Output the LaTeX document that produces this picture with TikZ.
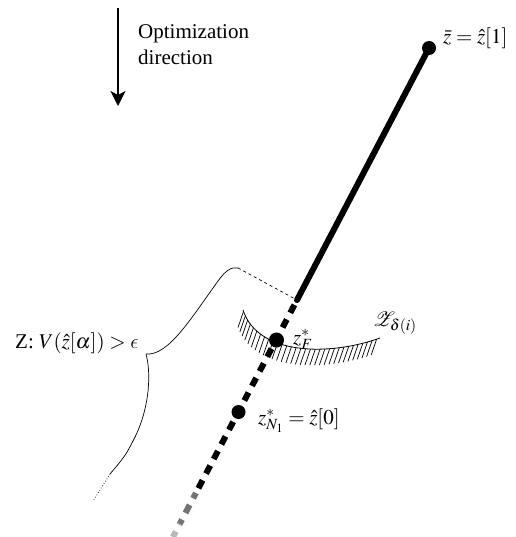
\documentclass[tikz,border=0pt]{standalone}
\usepackage{mathptmx}
\usepackage{mathrsfs}
\usepackage{fontspec}
\setmainfont{Liberation Serif}
\usetikzlibrary{arrows.meta,decorations.markings}
\DeclareSymbolFont{cmletters}{OML}{cmm}{m}{it}
\DeclareMathSymbol{\lunateps}{\mathord}{cmletters}{"0F}

\tikzset{
  dot/.style={circle,fill=black,inner sep=0pt,minimum size=#1},
  lbl/.style={inner sep=0pt,anchor=base west},
  traj/.style={line width=6pt},
  trajdash/.style={traj,dash pattern=on 9pt off 7.5pt},
  hatch/.style={postaction={decorate},
    decoration={markings,mark=between positions 0.01 and 0.99 step 4.8pt with
      {\pgftransformresetnontranslations
       \draw[line width=0.7pt] (0pt,0pt) -- (-5.5pt,-16pt);}}},
}

\begin{document}
\begin{tikzpicture}[x=1pt,y=-1pt,font=\fontsize{21}{26}\selectfont]
  \useasboundingbox (0,0) rectangle (515,537);
  % optimization direction
  \begin{scope}
    \coordinate (arrtop) at (118,8);
    \coordinate (arrbot) at (118,106);
    \draw[line width=1.2pt,-{Stealth[length=15pt,width=15pt,inset=4pt]}] (arrtop) -- (arrbot);
    \node[lbl] (opt1) at (138,39) {Optimization};
    \node[lbl] (opt2) at (138,65) {direction};
  \end{scope}
  % trajectory
  \begin{scope}
    \coordinate (zend) at (297,300);
    \coordinate (blk) at (195.9,493);
    \coordinate (gry) at (179.7,524);
    \coordinate (zlow) at (172.9,537);
    \draw[traj,line cap=round] (429,48) -- (zend);
    \draw[trajdash,dash phase=11pt] (zend) -- (blk);
    \draw[trajdash,color=black!55,dash phase=3pt] (blk) -- (gry);
    \draw[trajdash,color=black!28,dash phase=8pt] (gry) -- (zlow);
    \node[dot=14pt] (zbar) at (429,48) {};
    \node[dot=15pt] (zF) at (276.5,340) {};
    \node[dot=14pt] (zN) at (238.5,412) {};
    \node[lbl] (zbarlbl) at (443,44) {$\bar{z} = \hat{z}[1]$};
    \node[lbl] (zFlbl) at (293,344) {$z_F^*$};
    \node[lbl] (zNlbl) at (258,424) {$z_{N_1}^* = \hat{z}[0]$};
  \end{scope}
  % terminal set
  \begin{scope}
    \coordinate (setl) at (243,310);
    \coordinate (setr) at (380,338);
    \draw[line width=0.8pt,hatch] (setl) .. controls (258,356) and (330,356) .. (setr);
    \node[lbl] (setlbl) at (373,326) {$\mathscr{Z}_{\delta(i)}$};
  \end{scope}
  % brace
  \begin{scope}
    \coordinate (tip) at (146,354);
    \coordinate (btop) at (238,268);
    \coordinate (blow) at (110,474);
    \coordinate (bend) at (93,501);
    \draw[line width=0.7pt] (tip) .. controls (168,356) and (190,320) .. (218,281)
      .. controls (226,270) and (231,267) .. (btop);
    \draw[line width=0.7pt,dashed] (btop) -- (zend);
    \draw[line width=0.7pt] (tip) .. controls (151,372) and (150,405) .. (136,435)
      .. controls (126,455) .. (blow);
    \draw[line width=0.7pt,dotted] (blow) -- (bend);
    \node[lbl] (bracelbl) at (15,348) {Z: $V(\hat{z}[\alpha]) > \lunateps$};
  \end{scope}
\end{tikzpicture}
\end{document}
